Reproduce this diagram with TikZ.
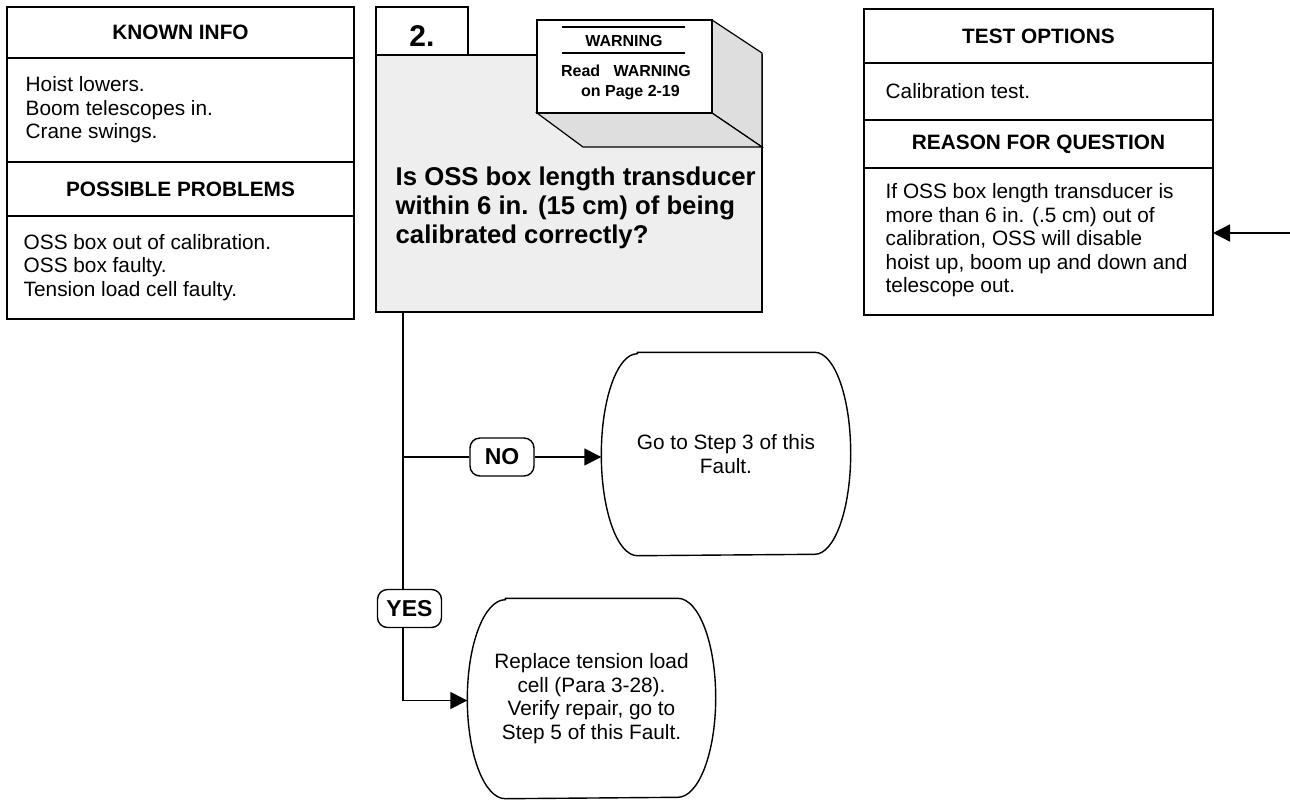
\documentclass[tikz,border=0pt]{standalone}
\usepackage{fontspec}
\setmainfont{Liberation Sans}
\usetikzlibrary{arrows.meta}
\definecolor{boxgray}{HTML}{EEEEEE}
\definecolor{facegray}{HTML}{DEDEDE}
\begin{document}
\begin{tikzpicture}[x=1pt,y=-1pt, line width=1.4pt,
  box/.style={draw, rectangle, anchor=north west, inner sep=0pt, outer sep=0pt},
  bodytext/.style={font=\fontsize{20.8}{23.5}\selectfont, align=left, anchor=west, inner sep=0pt},
  titletext/.style={font=\bfseries\fontsize{20.8}{24}\selectfont},
  lbl/.style={draw, rounded corners=10pt, fill=white, minimum width=64pt, minimum height=38pt, font=\bfseries\fontsize{23}{26}\selectfont, inner sep=0pt},
  term/.style={rectangle, inner sep=0pt, align=center, font=\fontsize{20.8}{23.7}\selectfont},
  arr/.style={-{Triangle[length=17pt,width=17pt]}},
  ]
\useasboundingbox (0,0) rectangle (1290,801);

% ---------- left box ----------
\node[box, titletext, minimum width=347pt, minimum height=51pt] (kit) at (7,7) {KNOWN INFO};
\node[box, minimum width=347pt, minimum height=104pt] (kib) at (7,58) {};
\node[bodytext] (kibt) at ([xshift=18pt]kib.west) {Hoist lowers.\\Boom telescopes in.\\Crane swings.};
\node[box, titletext, minimum width=347pt, minimum height=54pt] (ppt) at (7,162) {POSSIBLE PROBLEMS};
\node[box, minimum width=347pt, minimum height=103pt] (ppb) at (7,216) {};
\node[bodytext] (ppbt) at ([xshift=16pt]ppb.west) {OSS box out of calibration.\\OSS box faulty.\\Tension load cell faulty.};

% ---------- right box ----------
\node[box, titletext, minimum width=349pt, minimum height=54pt] (tot) at (864,9) {TEST OPTIONS};
\node[box, minimum width=349pt, minimum height=57pt] (tob) at (864,63) {};
\node[bodytext] (tobt) at ([xshift=21pt]tob.west) {Calibration test.};
\node[box, titletext, minimum width=349pt, minimum height=48pt] (rft) at (864,120) {REASON FOR QUESTION};
\node[box, minimum width=349pt, minimum height=147pt] (rfb) at (864,168) {};
\node[bodytext] (rfbt) at ([xshift=21pt,yshift=1pt]rfb.west) {If OSS box length transducer is\\more than 6 in. (.5 cm) out of\\calibration, OSS will disable\\hoist up, boom up and down and\\telescope out.};

% ---------- question box ----------
\node[box, fill=boxgray, minimum width=386pt, minimum height=257pt] (q) at (376,55) {};
\node[box, fill=white, minimum width=92pt, minimum height=48pt] (tab) at (376,7) {};
\node[font=\bfseries\fontsize{30}{32}\selectfont, inner sep=0pt] (two) at (422,36) {2.};
\node[anchor=west, inner sep=0pt, align=left, font=\bfseries\fontsize{25.7}{29}\selectfont] (qt) at (395,208)
  {Is OSS box length transducer\\within 6 in. (15 cm) of being\\calibrated correctly?};

% warning 3D box
\node[box, minimum width=175pt, minimum height=93pt, draw=none] (warn) at (537,20) {};
\filldraw[fill=facegray, line width=1.2pt] (warn.north east) -- ++(50,33) -- ++(0,94) -- (warn.south east) -- cycle;
\filldraw[fill=facegray, line width=1.2pt] (warn.south west) -- (warn.south east) -- ++(50,34) -- ++(-179,0) -- cycle;
\filldraw[fill=white, line width=1.2pt] (warn.north west) rectangle (warn.south east);
\draw[line width=1.4pt] (562,27) -- (685,27);
\draw[line width=1.4pt] (562,53) -- (685,53);
\node[font=\bfseries\fontsize{16}{20}\selectfont, inner sep=0pt] (wt) at (624,41) {WARNING};
\node[font=\bfseries\fontsize{16}{20}\selectfont, inner sep=0pt, align=center] (wr) at (626,82) {Read\ \ \ WARNING\\\ \ on Page 2-19};

% ---------- outcome boxes ----------
\node[term, minimum width=248pt, minimum height=202pt] (go) at (726,454) {Go to Step 3 of this\\Fault.};
\draw ([xshift=36pt]go.north west) -- ([xshift=-36pt]go.north east)
  arc[start angle=90, end angle=-90, x radius=36pt, y radius=101pt]
  -- ([xshift=36pt]go.south west)
  arc[start angle=270, end angle=90, x radius=36pt, y radius=101pt] -- cycle;

\node[term, minimum width=247pt, minimum height=199pt] (rep) at (591.5,698.5) {Replace tension load\\cell (Para 3-28).\\Verify repair, go to\\Step 5 of this Fault.};
\draw ([xshift=38pt]rep.north west) -- ([xshift=-38pt]rep.north east)
  arc[start angle=90, end angle=-90, x radius=38pt, y radius=99.5pt]
  -- ([xshift=38pt]rep.south west)
  arc[start angle=270, end angle=90, x radius=38pt, y radius=99.5pt] -- cycle;

% ---------- labels ----------
\node[lbl] (no) at (502,457) {NO};
\node[lbl] (yes) at (409.5,608.5) {YES};

% ---------- connectors ----------
\coordinate (vx) at ([xshift=27pt]q.south west);
\draw (vx) -- (vx |- yes.north);
\draw (vx |- no.west) -- (no.west);
\draw[arr] (no.east) -- (no.east -| go.west);
\draw[arr] (vx |- yes.south) |- ([yshift=-2pt]rep.west);
\coordinate (rin) at (1290,233);
\draw[arr] (rin) -- (rin -| rfb.east);
\end{tikzpicture}
\end{document}
